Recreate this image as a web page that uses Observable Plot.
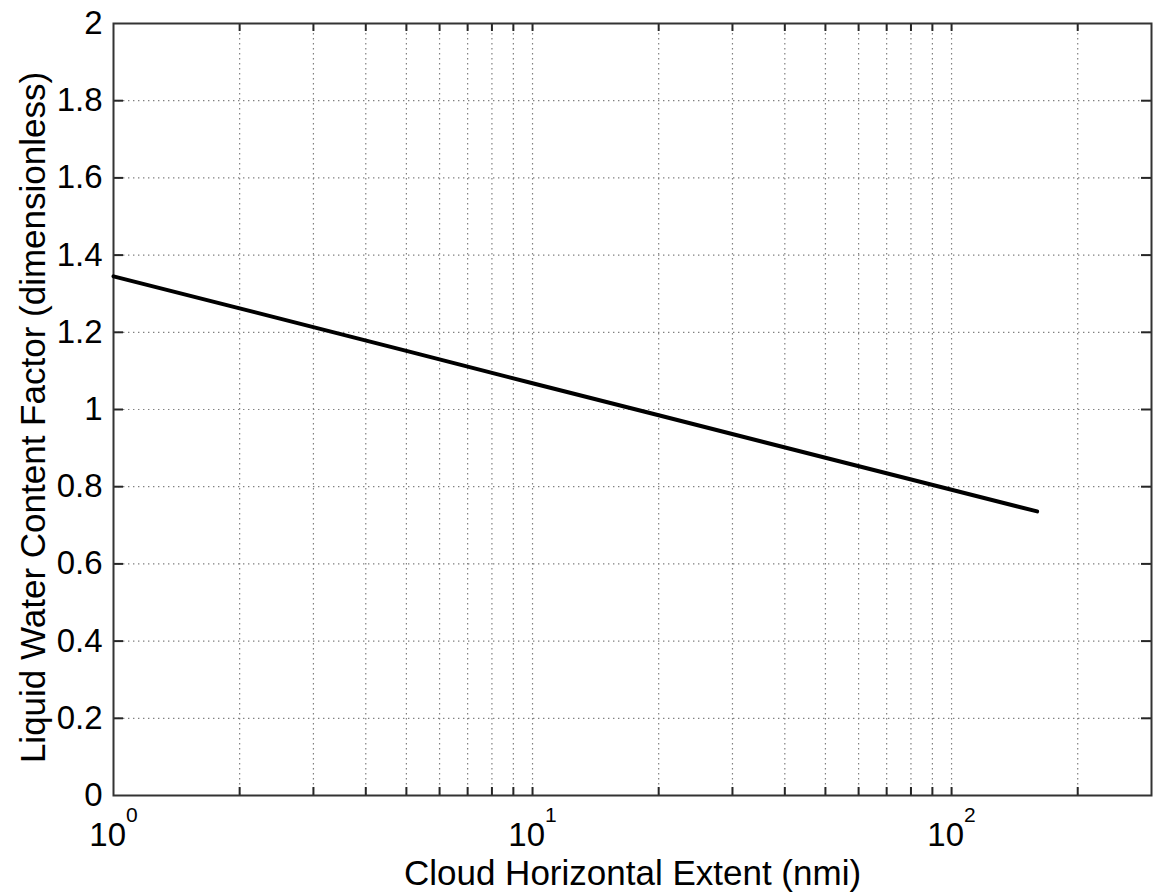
<!DOCTYPE html>
<html><head><meta charset="utf-8">
<script src="https://cdn.jsdelivr.net/npm/d3@7"></script>
<script src="https://cdn.jsdelivr.net/npm/@observablehq/plot@0.6"></script>
<style>body{margin:0;background:#fff} svg{display:block}</style>
</head><body><div id="chart"></div>
<script>
// Data
const extentNmi = [1, 2, 5, 10, 20, 50, 100, 160];
const lwcFactor = [1.345, 1.262, 1.152, 1.068, 0.985, 0.875, 0.792, 0.736];
const xMajorTicks = [1, 10, 100];
const xMinorTicks = [2, 3, 4, 5, 6, 7, 8, 9, 20, 30, 40, 50, 60, 70, 80, 90, 200];
const yTicks = [0, 0.2, 0.4, 0.6, 0.8, 1, 1.2, 1.4, 1.6, 1.8, 2];
const xLabel = "Cloud Horizontal Extent (nmi)";
const yLabel = "Liquid Water Content Factor (dimensionless)";

const data = extentNmi.map((x, i) => ({x, y: lwcFactor[i]}));

const W = 1153, H = 892, mL = 113, mR = 2, mT = 23, mB = 97;
const fw = W - mL - mR, fh = H - mT - mB;
const tickLen = 8;
const xGrid = [...xMinorTicks, 10, 100].sort((a, b) => a - b);
const yGrid = yTicks.filter(d => d > 0 && d < 2);
const gridStyle = {stroke: "#808080", strokeWidth: 1.2, strokeDasharray: "1.4,3.6"};
const tickStyle = {stroke: "#262626", strokeWidth: 2};

const chart = Plot.plot({
  width: W, height: H,
  marginLeft: mL, marginRight: mR, marginTop: mT, marginBottom: mB,
  style: {fontFamily: "'Liberation Sans', Arial, Helvetica, sans-serif", fontSize: "33px", color: "#000", background: "#fff"},
  x: {type: "log", domain: [1, 300]},
  y: {domain: [0, 2]},
  marks: [
    Plot.ruleX(xGrid, {x: d => d, ...gridStyle}),
    Plot.ruleY(yGrid, {y: d => d, ...gridStyle}),
    Plot.tickX(xGrid, {x: d => d, insetTop: fh - tickLen, ...tickStyle}),
    Plot.tickX(xGrid, {x: d => d, insetBottom: fh - tickLen, ...tickStyle}),
    Plot.tickY(yGrid, {y: d => d, insetRight: fw - tickLen - 2, ...tickStyle}),
    Plot.tickY(yGrid, {y: d => d, insetLeft: fw - tickLen - 2, ...tickStyle}),
    Plot.frame({stroke: "#333", strokeWidth: 2}),
    Plot.line(data, {x: "x", y: "y", stroke: "#000", strokeWidth: 4}),
    Plot.axisY({ticks: yTicks, tickSize: 0, tickPadding: 11, tickFormat: d => String(d), label: null, fontSize: 33}),
    Plot.axisX({ticks: xMajorTicks, tickSize: 0, tickPadding: 27, tickFormat: d => "10^" + Math.round(Math.log10(d)), label: null, fontSize: 33}),
    Plot.text([xLabel], {frameAnchor: "bottom", textAnchor: "middle", lineAnchor: "middle", dy: 78, fontSize: 35, fill: "#000"}),
    Plot.text([yLabel], {frameAnchor: "left", textAnchor: "middle", lineAnchor: "middle", dx: -80, dy: 8, rotate: -90, fontSize: 35, fill: "#000"})
  ]
});

// Render exponents as superscripts
d3.select(chart).selectAll("g[aria-label='x-axis tick label'] text").each(function() {
  const t = d3.select(this);
  const s = t.text();
  const parts = s.split("^");
  if (parts.length === 2) {
    t.text(parts[0]);
    t.append("tspan").attr("font-size", "21px").attr("dy", "-1.15em").text(parts[1]);
  }
});

document.getElementById("chart").appendChild(chart);
</script>
</body></html>
